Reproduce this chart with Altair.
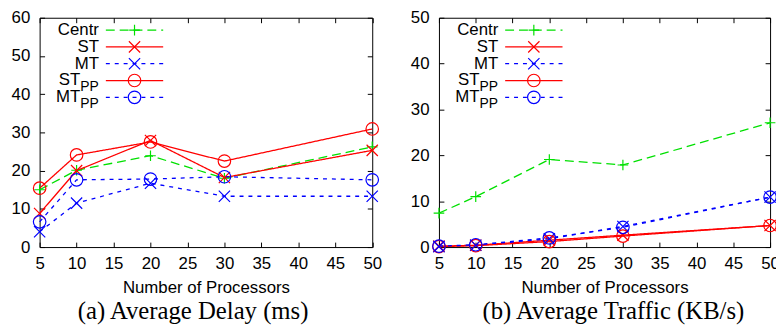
import altair as alt
import pandas as pd

# ---------------- data ----------------
procs = [5, 10, 20, 30, 50]
series = ["Centr", "ST", "MT", "ST_PP", "MT_PP"]

delay_centr = [15.0, 20.1, 23.9, 18.0, 26.2]
delay_st = [8.8, 20.0, 27.9, 18.2, 25.3]
delay_mt = [4.0, 11.5, 16.7, 13.3, 13.3]
delay_st_pp = [15.4, 24.1, 27.5, 22.5, 30.9]
delay_mt_pp = [6.6, 17.6, 17.8, 18.4, 17.6]

traffic_centr = [7.4, 11.0, 19.1, 17.9, 27.1]
traffic_st = [0.2, 0.4, 1.5, 2.6, 4.7]
traffic_mt = [0.1, 0.4, 1.8, 4.5, 10.9]
traffic_st_pp = [0.1, 0.3, 1.2, 2.4, 4.7]
traffic_mt_pp = [0.2, 0.5, 2.0, 4.3, 10.9]

x_ticks = [5, 10, 15, 20, 25, 30, 35, 40, 45, 50]
delay_y_ticks = [0, 10, 20, 30, 40, 50, 60]
traffic_y_ticks = [0, 10, 20, 30, 40, 50]

legend_main = ["Centr", "ST", "MT", "ST", "MT"]
legend_sub = ["", "", "", "PP", "PP"]
legend_rank = [0, 1, 2, 3, 4]

# ---------------- styles ----------------
SANS = "Liberation Sans"
SERIF = "Liberation Serif"
colors = ["#00e000", "#ff0000", "#0000ff", "#ff0000", "#0000ff"]
dashes = [[9, 5], [1, 0], [4, 5], [1, 0], [4, 5]]
PLUS = "M-0.85,0L0.85,0M0,-0.85L0,0.85"
XSYM = "M-0.9,-0.9L0.9,0.9M-0.9,0.9L0.9,-0.9"
shapes = [PLUS, XSYM, XSYM, "circle", "circle"]

legend_df = pd.DataFrame({"series": series, "main": legend_main,
                          "sub": legend_sub, "rank": legend_rank})

PLOT_H = 232


def panel(vals, ymax, yticks, caption, cap_dx, width):
    rows = []
    for s, v in zip(series, vals):
        for p, y in zip(procs, v):
            rows.append({"series": s, "procs": p, "value": y})
    df = pd.DataFrame(rows)

    xs = alt.Scale(domain=[5, 50], nice=False, zero=False)
    ys = alt.Scale(domain=[0, ymax], nice=False, zero=True)
    color = alt.Color("series:N", scale=alt.Scale(domain=series, range=colors), legend=None)
    dash = alt.StrokeDash("series:N", scale=alt.Scale(domain=series, range=dashes), legend=None)
    shape = alt.Shape("series:N", scale=alt.Scale(domain=series, range=shapes), legend=None)

    common = dict(offset=-5, tickSize=5, tickColor="black", tickWidth=1,
                  domain=False, grid=False, labelFont=SANS, labelFontSize=17,
                  labelColor="black", labelFlush=False, labelOverlap=False)

    lines = alt.Chart(df).mark_line(strokeWidth=1.3).encode(
        x=alt.X("procs:Q", scale=xs, axis=alt.Axis(
            orient="bottom", values=x_ticks, title="Number of Processors",
            titleFont=SANS, titleFontSize=17, titleFontWeight="normal",
            titleColor="black", titlePadding=8, labelPadding=9, **common)),
        y=alt.Y("value:Q", scale=ys, axis=alt.Axis(
            orient="left", values=yticks, title=None, labelPadding=10, **common)),
        color=color, strokeDash=dash)

    points = alt.Chart(df).mark_point(filled=False, strokeWidth=1.2, size=160, opacity=1).encode(
        x=alt.X("procs:Q", scale=xs, axis=alt.Axis(
            orient="top", values=x_ticks, title=None, labels=False, **common)),
        y=alt.Y("value:Q", scale=ys, axis=alt.Axis(
            orient="right", values=yticks, title=None, labels=False, **common)),
        color=color, shape=shape)

    leg = alt.Chart(legend_df).transform_calculate(
        py="12.5 + 17 * datum.rank",
        tx="datum.sub == '' ? 60 : 41")
    leg_line = leg.mark_rule(strokeWidth=1.3).encode(
        x=alt.value(67), x2=alt.value(125),
        y=alt.Y("py:Q", scale=None, axis=None),
        color=color, strokeDash=dash)
    leg_pt = leg.mark_point(filled=False, size=160, strokeWidth=1.2, opacity=1).encode(
        x=alt.value(96), y=alt.Y("py:Q", scale=None, axis=None),
        color=color, shape=shape)
    leg_text = leg.mark_text(align="right", baseline="middle", font=SANS,
                             fontSize=17, color="black").encode(
        x=alt.X("tx:Q", scale=None, axis=None),
        y=alt.Y("py:Q", scale=None, axis=None), text="main:N")
    leg_sub = leg.transform_filter("datum.sub != ''").mark_text(
        align="left", baseline="middle", font=SANS, fontSize=14, dy=7,
        color="black").encode(
        x=alt.X("tx:Q", scale=None, axis=None),
        y=alt.Y("py:Q", scale=None, axis=None), text="sub:N")

    return alt.layer(lines, points, leg_line, leg_pt, leg_text, leg_sub).resolve_axis(
        x="independent", y="independent").properties(
        width=width, height=PLOT_H,
        title=alt.TitleParams(text=caption, orient="bottom", font=SERIF, fontSize=25,
                              fontWeight="normal", color="black", frame="group",
                              anchor="middle", dx=cap_dx, offset=4))


left = panel([delay_centr, delay_st, delay_mt, delay_st_pp, delay_mt_pp], 60,
             delay_y_ticks, "(a) Average Delay (ms)", -13, 336.5)
right = panel([traffic_centr, traffic_st, traffic_mt, traffic_st_pp, traffic_mt_pp], 50,
              traffic_y_ticks, "(b) Average Traffic (KB/s)", 9, 335)

chart = alt.hconcat(left, right, spacing=27).properties(
    padding={"left": 2, "top": -2, "right": -4, "bottom": 0}
).configure_view(stroke="black", strokeWidth=1)

chart.save("out.html", embed_options={"renderer": "svg", "actions": False})
